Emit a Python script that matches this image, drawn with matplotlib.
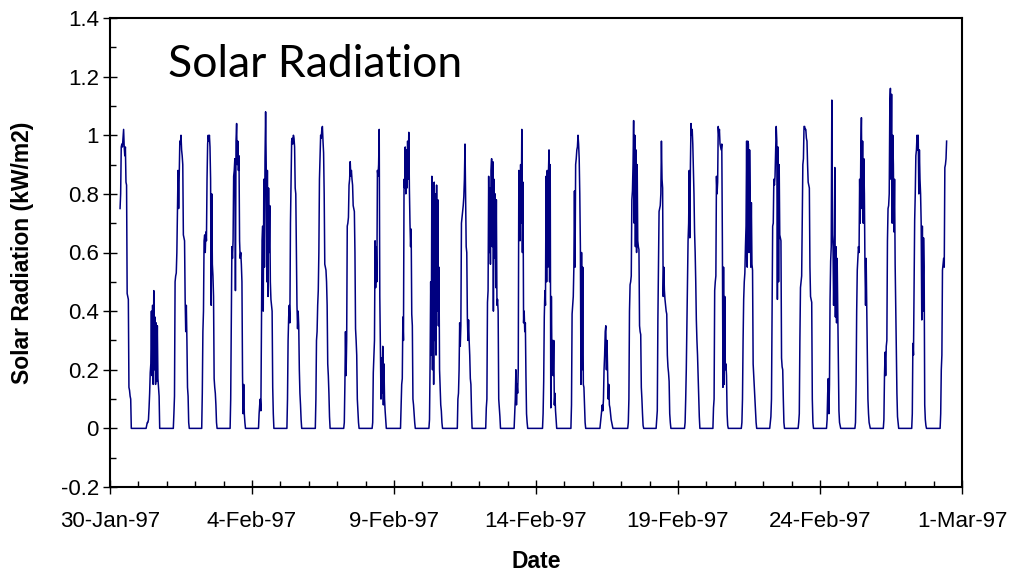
import numpy as np
import matplotlib
matplotlib.use("Agg")
import matplotlib.pyplot as plt
import matplotlib.dates as mdates
from matplotlib.ticker import MultipleLocator

# half-hourly solar radiation (kW/m2), 06:00 to 18:30 each day; night hours are zero
jan30 = [None, None, None, None, None, 0.75, 0.80, 0.96, 0.97, 0.96, 0.99, 1.02, 0.96,
         0.93, 0.96, 0.84, 0.83, 0.46, 0.45, 0.44, 0.14, 0.13, 0.11, 0.10, 0.0, 0.0]
jan31 = [0, 0, 0.01, 0.02, 0.02, 0.03, 0.07, 0.12, 0.19, 0.22, 0.40, 0.18, 0.42,
         0.15, 0.47, 0.20, 0.38, 0.15, 0.36, 0.16, 0.35, 0.17, 0.14, 0.11, 0, 0]
feb01 = [0.05, 0.11, 0.50, 0.52, 0.53, 0.60, 0.74, 0.88, 0.75, 0.86, 0.98, 0.97, 1.00,
         0.95, 0.93, 0.90, 0.66, 0.65, 0.64, 0.44, 0.33, 0.42, 0.30, 0.14, 0.11, 0.02]
feb02 = [0.12, 0.33, 0.40, 0.64, 0.66, 0.60, 0.67, 0.64, 0.85, 0.97, 1.00, 0.98, 1.00,
         0.96, 0.85, 0.42, 0.80, 0.56, 0.52, 0.45, 0.17, 0.14, 0.12, 0.08, 0.02, 0]
feb03 = [0.10, 0.35, 0.62, 0.58, 0.64, 0.86, 0.88, 0.92, 0.47, 0.98, 1.04, 0.90, 0.98,
         0.88, 0.93, 0.64, 0.58, 0.60, 0.56, 0.50, 0.18, 0.05, 0.15, 0.05, 0.02, 0]
feb04 = [0.05, 0.08, 0.10, 0.06, 0.37, 0.64, 0.69, 0.40, 0.85, 0.55, 0.92, 1.08, 0.90,
         0.50, 0.88, 0.45, 0.82, 0.60, 0.76, 0.50, 0.44, 0.42, 0.40, 0.14, 0.05, 0]
feb05 = [0.10, 0.30, 0.38, 0.42, 0.36, 0.70, 0.85, 0.98, 0.99, 0.97, 1.00, 0.99, 0.96,
         0.82, 0.80, 0.62, 0.42, 0.34, 0.40, 0.35, 0.20, 0.12, 0.08, 0.03, 0, 0]
feb06 = [0.10, 0.30, 0.33, 0.42, 0.47, 0.60, 0.85, 0.92, 1.00, 0.99, 1.02, 1.03, 0.98,
         0.94, 0.80, 0.56, 0.55, 0.54, 0.50, 0.42, 0.22, 0.18, 0.12, 0.04, 0, 0]
feb07 = [0.02, 0.15, 0.33, 0.18, 0.30, 0.69, 0.70, 0.72, 0.83, 0.85, 0.91, 0.86, 0.88,
         0.85, 0.83, 0.76, 0.75, 0.74, 0.60, 0.34, 0.30, 0.25, 0.10, 0.06, 0.02, 0]
feb08 = [0.02, 0.19, 0.25, 0.30, 0.64, 0.48, 0.62, 0.50, 0.88, 0.86, 0.90, 1.02, 0.45,
         0.26, 0.10, 0.24, 0.12, 0.28, 0.08, 0.22, 0.10, 0.06, 0.03, 0, 0, 0]
feb09 = [0.08, 0.15, 0.17, 0.38, 0.30, 0.85, 0.82, 0.96, 0.80, 0.95, 0.82, 0.98, 0.85,
         1.01, 0.82, 0.70, 0.62, 0.68, 0.39, 0.35, 0.10, 0.08, 0.05, 0.02, 0, 0]
feb10 = [0.03, 0.22, 0.50, 0.25, 0.86, 0.20, 0.80, 0.15, 0.84, 0.30, 0.80, 0.25, 0.83,
         0.40, 0.78, 0.35, 0.55, 0.20, 0.14, 0.08, 0.06, 0.02, 0, 0, 0, 0]
feb11 = [0.10, 0.12, 0.20, 0.36, 0.28, 0.35, 0.70, 0.72, 0.74, 0.76, 0.79, 0.85, 0.97,
         0.79, 0.62, 0.60, 0.38, 0.30, 0.37, 0.30, 0.25, 0.17, 0.15, 0.06, 0, 0]
feb12 = [0.07, 0.10, 0.43, 0.47, 0.86, 0.60, 0.82, 0.56, 0.88, 0.92, 0.62, 0.91, 0.40,
         0.85, 0.58, 0.80, 0.48, 0.78, 0.42, 0.44, 0.40, 0.10, 0.07, 0.04, 0, 0]
feb13 = [0.05, 0.10, 0.20, 0.08, 0.15, 0.12, 0.20, 0.88, 0.85, 0.64, 0.90, 0.70, 1.02,
         0.60, 0.84, 0.36, 0.40, 0.33, 0.36, 0.18, 0.05, 0.02, 0, 0, 0, 0]
feb14 = [0.05, 0.16, 0.38, 0.47, 0.42, 0.86, 0.50, 0.88, 0.55, 0.87, 0.95, 0.50, 0.90,
         0.07, 0.45, 0.22, 0.30, 0.18, 0.30, 0.08, 0.12, 0.06, 0.03, 0, 0, 0]
feb15 = [0.08, 0.39, 0.42, 0.45, 0.55, 0.81, 0.55, 0.90, 0.92, 0.95, 0.96, 1.00, 0.97,
         0.92, 0.80, 0.62, 0.15, 0.60, 0.20, 0.55, 0.15, 0.14, 0.08, 0.02, 0, 0]
feb16 = [0, 0.02, 0.04, 0.06, 0.08, 0.06, 0.10, 0.20, 0.25, 0.33, 0.35, 0.20, 0.30,
         0.20, 0.10, 0.15, 0.08, 0.07, 0.05, 0.03, 0.02, 0.01, 0, 0, 0, 0]
feb17 = [0.02, 0.10, 0.40, 0.49, 0.50, 0.52, 0.78, 0.81, 0.90, 1.05, 0.70, 1.00, 0.62,
         0.95, 0.60, 0.90, 0.64, 0.62, 0.61, 0.35, 0.33, 0.32, 0.14, 0.10, 0.05, 0.01]
feb18 = [0.03, 0.06, 0.37, 0.55, 0.74, 0.75, 0.76, 0.80, 0.98, 0.85, 0.82, 0.45, 0.55,
         0.47, 0.44, 0.42, 0.40, 0.39, 0.25, 0.21, 0.19, 0.16, 0.05, 0.02, 0, 0]
feb19 = [0.02, 0.10, 0.20, 0.35, 0.50, 0.64, 0.70, 0.88, 0.65, 0.90, 1.04, 1.00, 1.02,
         0.97, 0.88, 0.80, 0.67, 0.60, 0.50, 0.37, 0.30, 0.25, 0.18, 0.10, 0.04, 0]
feb20 = [0.07, 0.10, 0.47, 0.50, 0.52, 0.86, 0.80, 0.84, 1.03, 1.00, 1.02, 0.97, 0.96,
         0.95, 0.97, 0.64, 0.14, 0.55, 0.15, 0.45, 0.20, 0.22, 0.18, 0.05, 0.01, 0]
feb21 = [0.02, 0.10, 0.30, 0.44, 0.50, 0.53, 0.62, 0.69, 0.98, 0.55, 0.98, 0.97, 0.60,
         0.95, 0.80, 0.55, 0.77, 0.56, 0.54, 0.22, 0.18, 0.14, 0.10, 0.06, 0.02, 0]
feb22 = [0.02, 0.04, 0.10, 0.39, 0.69, 0.70, 0.85, 0.83, 0.86, 0.95, 1.03, 0.98, 0.44,
         0.96, 0.50, 0.90, 0.66, 0.65, 0.64, 0.24, 0.21, 0.20, 0.10, 0.02, 0, 0]
feb23 = [0.02, 0.05, 0.30, 0.48, 0.50, 0.52, 0.70, 0.90, 0.92, 1.03, 1.03, 1.02, 1.02,
         0.99, 0.98, 0.90, 0.84, 0.83, 0.82, 0.55, 0.45, 0.44, 0.43, 0.10, 0.02, 0]
feb24 = [0.03, 0.12, 0.17, 0.05, 0.15, 0.44, 0.57, 0.62, 1.12, 0.66, 0.62, 0.42, 0.60,
         0.89, 0.38, 0.62, 0.36, 0.58, 0.40, 0.22, 0.06, 0.02, 0.01, 0, 0, 0]
feb25 = [0.02, 0.15, 0.40, 0.54, 0.58, 0.62, 0.60, 0.85, 0.70, 0.95, 1.06, 0.75, 0.98,
         0.70, 0.92, 0.80, 0.55, 0.42, 0.58, 0.40, 0.25, 0.10, 0.05, 0.02, 0.01, 0]
feb26 = [0.03, 0.18, 0.26, 0.18, 0.28, 0.30, 0.64, 0.75, 0.76, 0.80, 1.10, 1.16, 0.85,
         1.14, 0.70, 1.00, 0.90, 0.67, 0.85, 0.56, 0.40, 0.27, 0.12, 0.04, 0.02, 0]
feb27 = [0.05, 0.29, 0.25, 0.50, 0.71, 0.80, 0.93, 0.95, 1.00, 0.95, 1.00, 0.80, 0.95,
         0.85, 0.80, 0.70, 0.37, 0.69, 0.40, 0.65, 0.55, 0.08, 0.03, 0.01, 0, 0]
feb28 = [0.05, 0.20, 0.25, 0.54, 0.56, 0.58, 0.55, 0.89, 0.90, 0.92, 0.98]

days = [jan30, jan31, feb01, feb02, feb03, feb04, feb05, feb06, feb07, feb08,
        feb09, feb10, feb11, feb12, feb13, feb14, feb15, feb16, feb17, feb18,
        feb19, feb20, feb21, feb22, feb23, feb24, feb25, feb26, feb27, feb28]

start_date = "1997-01-30"
end_date = "1997-03-01"
tick_dates = ["1997-01-30", "1997-02-04", "1997-02-09", "1997-02-14",
              "1997-02-19", "1997-02-24", "1997-03-01"]
tick_labels = ["30-Jan-97", "4-Feb-97", "9-Feb-97", "14-Feb-97",
               "19-Feb-97", "24-Feb-97", "1-Mar-97"]
ytick_values = [-0.2, 0, 0.2, 0.4, 0.6, 0.8, 1.0, 1.2, 1.4]
ytick_labels = ["-0.2", "0", "0.2", "0.4", "0.6", "0.8", "1", "1.2", "1.4"]

# build a half-hourly series: zero at night, readings from 06:00 on
steps_per_day = 48
first_step = 12  # 06:00
values = np.zeros(len(days) * steps_per_day)
for d, readings in enumerate(days):
    for i, r in enumerate(readings):
        values[d * steps_per_day + first_step + i] = np.nan if r is None else r
# no record before the first reading or after the last one
values[:first_step] = np.nan
last = (len(days) - 1) * steps_per_day + first_step + len(feb28)
values[last:] = np.nan

times = np.datetime64(start_date) + np.arange(len(values)) * np.timedelta64(30, "m")

fig = plt.figure(figsize=(10.09, 5.73), dpi=100)
ax = fig.add_axes([110 / 1009, 86 / 573, 852 / 1009, 469 / 573])

ax.plot(times, values, color="#000080", lw=1.1)

ax.set_xlim(np.datetime64(start_date), np.datetime64(end_date))
ax.set_ylim(-0.2, 1.4)

tick_font = {"family": "Liberation Sans", "size": 16}
ax.set_xticks([mdates.date2num(np.datetime64(t)) for t in tick_dates])
ax.set_xticklabels(tick_labels, fontdict=tick_font)
ax.xaxis.set_minor_locator(mdates.DayLocator())
ax.set_yticks(ytick_values)
ax.set_yticklabels(ytick_labels, fontdict=tick_font)
ax.yaxis.set_minor_locator(MultipleLocator(0.1))

ax.tick_params(which="major", direction="inout", length=10, width=1.0, color="black")
ax.tick_params(which="minor", direction="in", length=4, width=1.0, color="black")
ax.tick_params(axis="x", which="major", pad=12)
ax.tick_params(axis="y", which="major", pad=3)

for side in ax.spines.values():
    side.set_linewidth(1.5)
    side.set_color("black")

ax.set_xlabel("Date", family="Liberation Sans", fontsize=16.5, fontweight="bold", labelpad=13)
ax.set_ylabel("Solar Radiation (kW/m2)", family="Liberation Sans", fontsize=16.5,
              fontweight="bold", labelpad=19)

ax.text(0.068, 0.874, "Solar Radiation", transform=ax.transAxes, family="Lato",
        fontsize=32, va="baseline", ha="left", color="black")

fig.savefig("out.png", dpi=100)
